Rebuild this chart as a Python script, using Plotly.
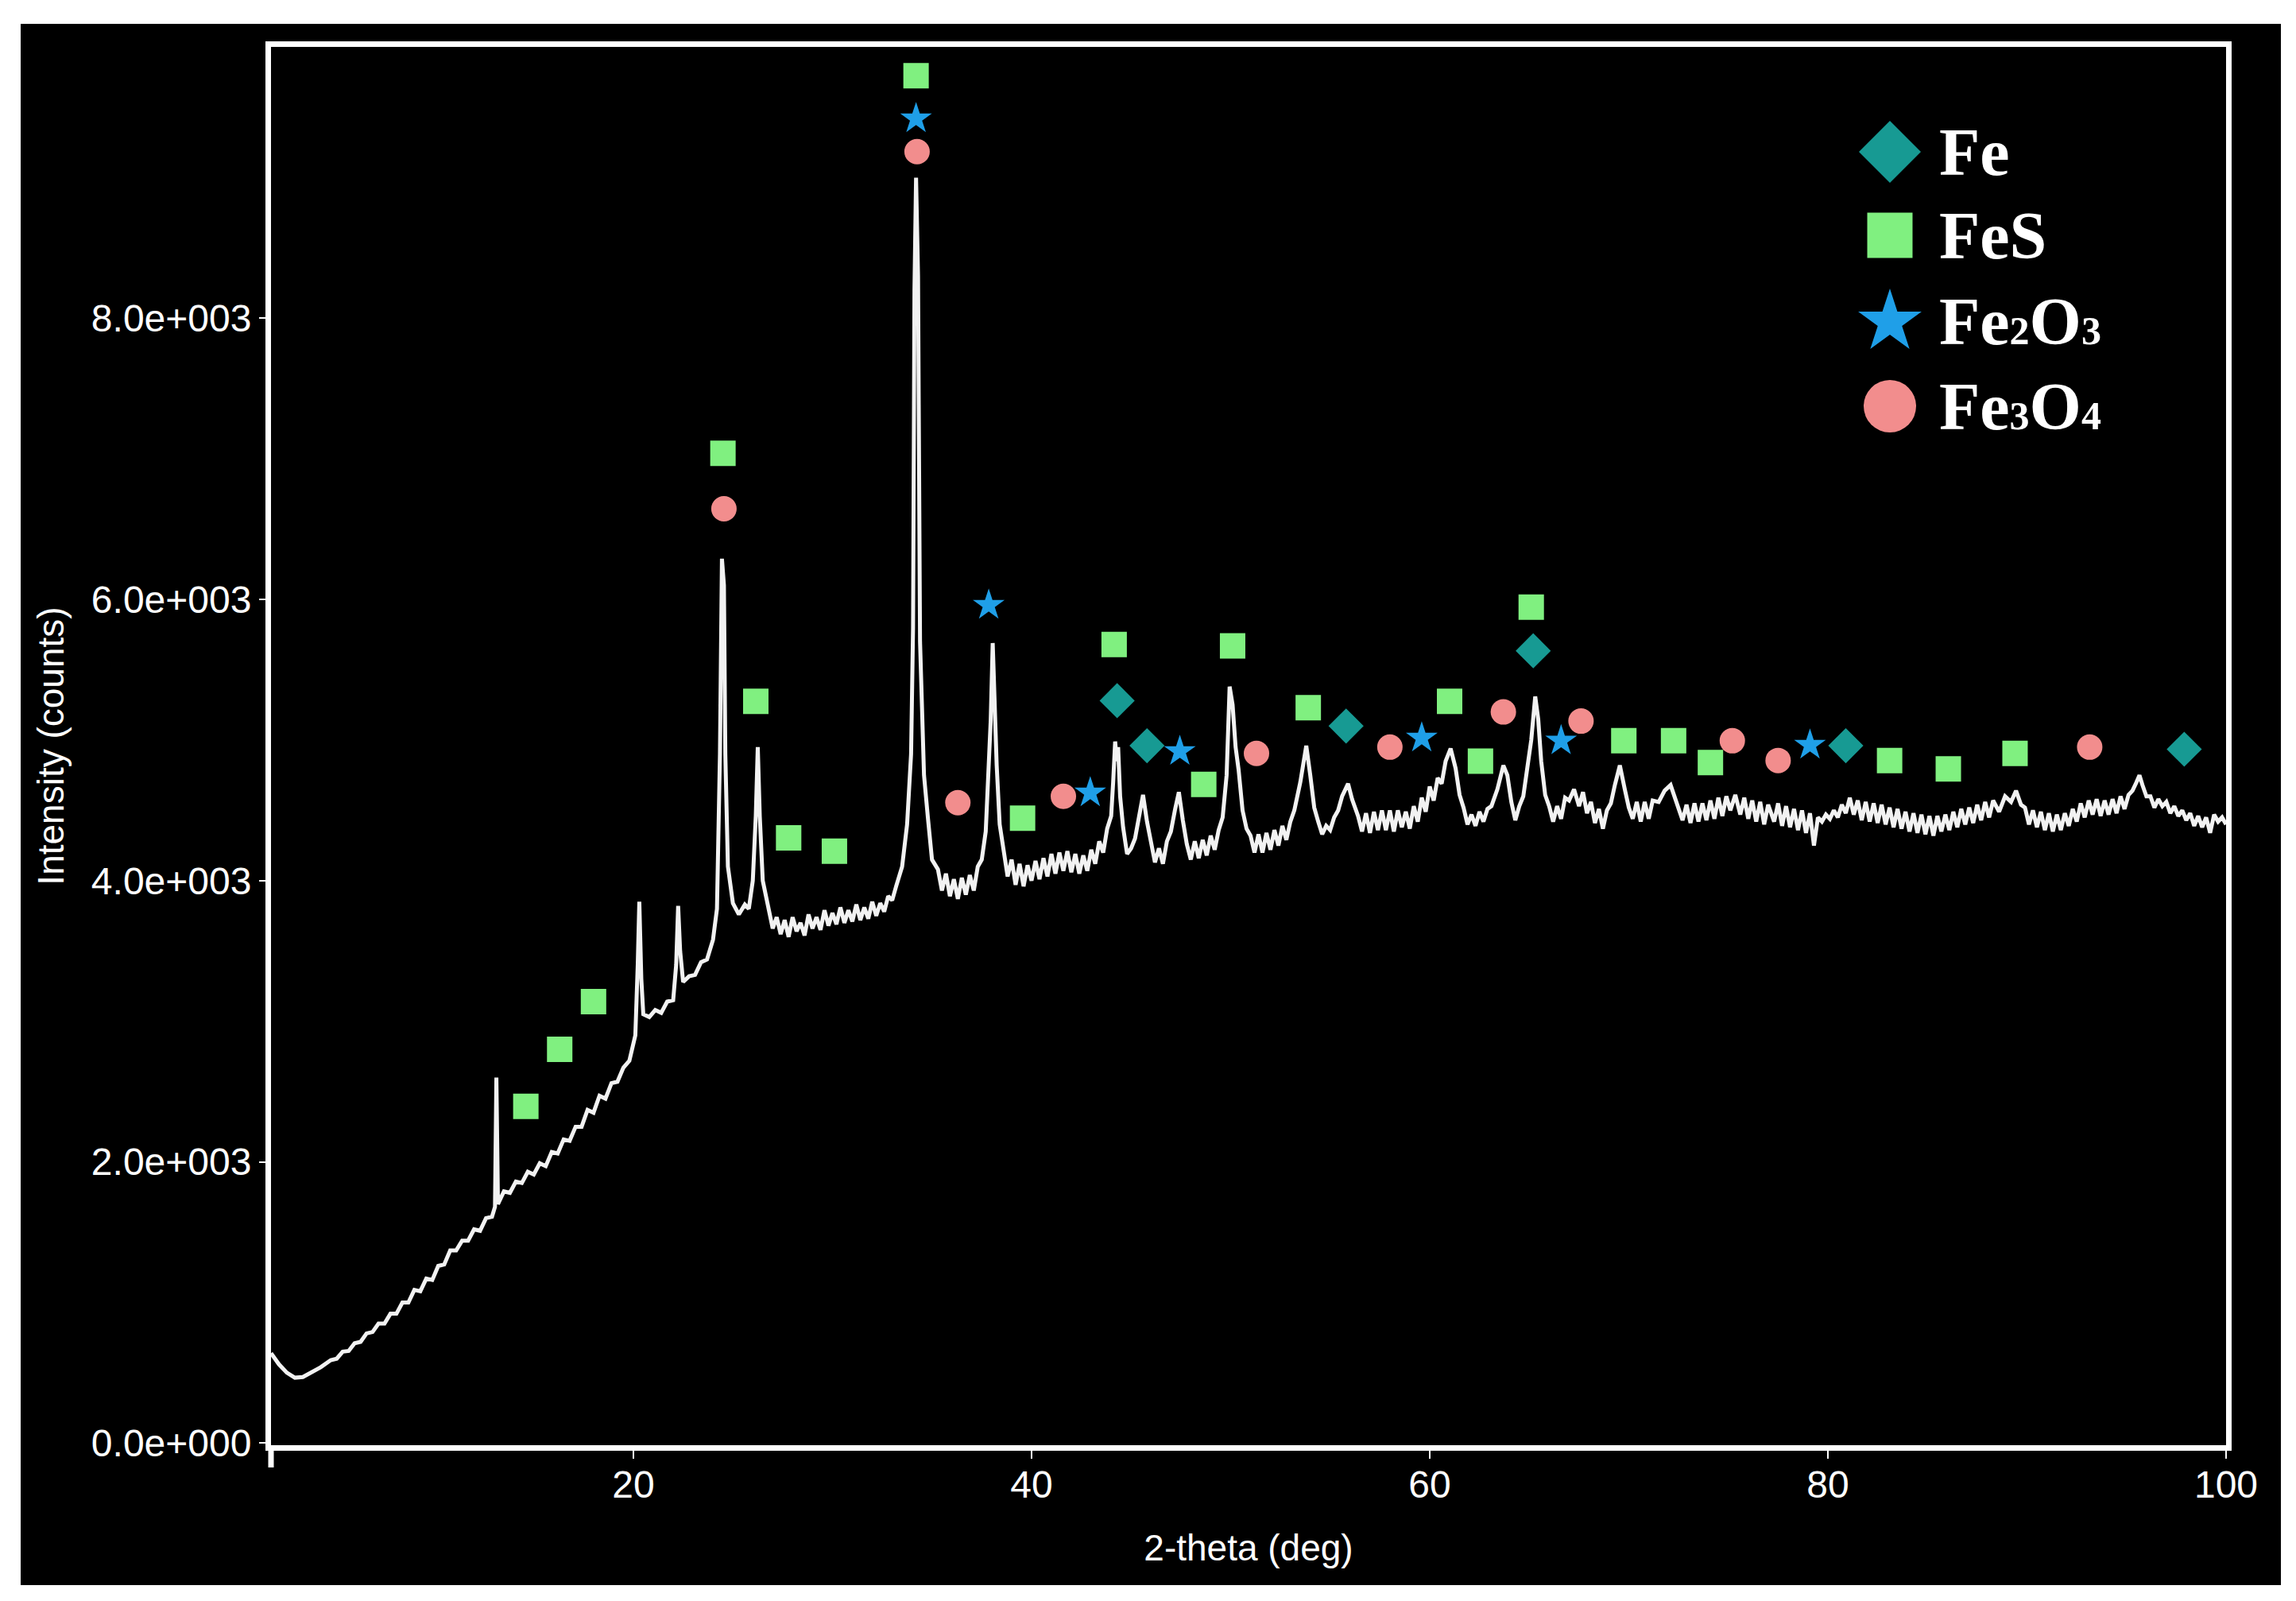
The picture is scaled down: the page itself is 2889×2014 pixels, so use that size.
import plotly.graph_objects as go

# ---------------- data ----------------
# XRD pattern: (2-theta in deg, intensity in counts)
xrd_pattern = [
    (1.8, 640), (2.2, 560), (2.6, 500), (3.0, 465), (3.4, 470), (3.8, 500), (4.3, 540),
    (4.8, 590), (5.1, 600), (5.4, 650), (5.7, 655), (6.0, 710), (6.3, 720), (6.6, 780),
    (6.9, 790), (7.2, 850), (7.5, 850), (7.8, 920), (8.1, 920), (8.4, 1000), (8.7, 1000),
    (9.0, 1090), (9.3, 1080), (9.6, 1170), (9.9, 1160), (10.2, 1260), (10.5, 1270),
    (10.8, 1370), (11.1, 1370), (11.4, 1440), (11.7, 1440), (12.0, 1520), (12.3, 1510),
    (12.6, 1600), (12.9, 1610), (13.05, 1680), (13.12, 2600),
    (13.2, 1700), (13.5, 1790), (13.8, 1780), (14.1, 1860), (14.4, 1850), (14.7, 1930),
    (15.0, 1910), (15.3, 1990), (15.6, 1970), (15.9, 2070), (16.2, 2060), (16.5, 2160),
    (16.8, 2150), (17.1, 2250), (17.4, 2250), (17.7, 2370), (18.0, 2350), (18.3, 2470),
    (18.6, 2450), (18.9, 2560), (19.2, 2570), (19.5, 2670), (19.8, 2720), (20.1, 2900),
    (20.22, 3400), (20.3, 3850), (20.4, 3300), (20.5, 3050), (20.8, 3030), (21.1, 3080),
    (21.4, 3060), (21.7, 3140), (22.0, 3150), (22.15, 3400), (22.25, 3820), (22.35, 3500),
    (22.5, 3280), (22.8, 3320), (23.1, 3330), (23.4, 3420), (23.7, 3440), (24.0, 3580),
    (24.2, 3800), (24.35, 4900), (24.45, 6290), (24.55, 6100),
    (24.62, 4900), (24.75, 4100), (25.0, 3840), (25.3, 3760), (25.6, 3830), (25.8, 3800),
    (26.0, 4000), (26.15, 4460), (26.25, 4950), (26.35, 4460), (26.5, 4000), (26.8, 3800),
    (27.0, 3660), (27.2, 3740), (27.4, 3620), (27.6, 3720), (27.8, 3600), (28.0, 3740),
    (28.2, 3640), (28.4, 3700), (28.6, 3610), (28.8, 3760), (29.0, 3660), (29.2, 3740),
    (29.4, 3650), (29.6, 3790), (29.8, 3680), (30.0, 3770), (30.2, 3690), (30.4, 3810),
    (30.6, 3700), (30.8, 3790), (31.0, 3710), (31.2, 3830), (31.4, 3720), (31.6, 3810),
    (31.8, 3730), (32.0, 3850), (32.2, 3750), (32.4, 3840), (32.6, 3780), (32.8, 3890),
    (33.0, 3860), (33.2, 3960), (33.5, 4100), (33.75, 4400), (33.95, 4900),
    (34.05, 5800), (34.12, 8200), (34.2, 9000), (34.3, 8300), (34.4, 5700), (34.5, 5300),
    (34.6, 4750), (34.8, 4440), (35.0, 4150), (35.3, 4080), (35.5, 3930), (35.7, 4050),
    (35.9, 3890), (36.1, 4010), (36.3, 3870), (36.5, 4020), (36.7, 3900), (36.9, 4040),
    (37.1, 3930), (37.3, 4100), (37.5, 4150), (37.7, 4350), (37.85, 4820), (37.95, 5140),
    (38.05, 5690), (38.15, 5140), (38.25, 4820), (38.4, 4400), (38.6, 4200), (38.8, 4030),
    (39.0, 4150), (39.2, 3970), (39.4, 4120), (39.6, 3960), (39.8, 4110), (40.0, 4000),
    (40.2, 4140), (40.4, 4010), (40.6, 4160), (40.8, 4030), (41.0, 4190), (41.2, 4050),
    (41.4, 4200), (41.6, 4070), (41.8, 4210), (42.0, 4060), (42.2, 4190), (42.4, 4050),
    (42.6, 4180), (42.8, 4070), (43.0, 4220), (43.2, 4120), (43.4, 4280), (43.6, 4200),
    (43.8, 4370), (44.0, 4460), (44.1, 4700), (44.2, 4990), (44.28, 4850), (44.35, 4950),
    (44.45, 4600), (44.6, 4380), (44.8, 4190), (45.0, 4230), (45.2, 4300), (45.4, 4450),
    (45.6, 4610), (45.8, 4420), (46.0, 4280), (46.2, 4130), (46.4, 4230), (46.6, 4120),
    (46.8, 4280), (47.0, 4350), (47.2, 4500), (47.4, 4630), (47.6, 4430), (47.8, 4260),
    (48.0, 4150), (48.2, 4280), (48.4, 4160), (48.6, 4290), (48.8, 4180), (49.0, 4320),
    (49.2, 4220), (49.4, 4360), (49.6, 4450), (49.8, 4750), (49.95, 5380), (50.1, 5250),
    (50.25, 4950), (50.4, 4790), (50.6, 4500), (50.8, 4370), (51.0, 4320), (51.2, 4200),
    (51.4, 4330), (51.6, 4200), (51.8, 4340), (52.0, 4220), (52.2, 4360), (52.4, 4250),
    (52.6, 4390), (52.8, 4290), (53.0, 4420), (53.2, 4500), (53.5, 4700), (53.8, 4960),
    (54.0, 4750), (54.2, 4520), (54.4, 4420), (54.6, 4330), (54.8, 4390), (55.0, 4360),
    (55.2, 4450), (55.4, 4500), (55.6, 4600), (55.9, 4690), (56.1, 4580), (56.4, 4460),
    (56.6, 4350), (56.8, 4480), (57.0, 4340), (57.2, 4490), (57.4, 4360), (57.6, 4500),
    (57.8, 4360), (58.0, 4500), (58.2, 4350), (58.4, 4500), (58.6, 4380), (58.8, 4490),
    (59.0, 4370), (59.2, 4530), (59.4, 4420), (59.6, 4590), (59.8, 4490), (60.0, 4670),
    (60.2, 4570), (60.4, 4730), (60.6, 4690), (60.8, 4850), (61.05, 4940), (61.3, 4800),
    (61.5, 4610), (61.7, 4520), (61.9, 4400), (62.1, 4470), (62.3, 4390), (62.5, 4490),
    (62.7, 4420), (62.9, 4510), (63.1, 4530), (63.4, 4650), (63.7, 4820), (63.9, 4750),
    (64.1, 4560), (64.3, 4430), (64.5, 4530), (64.7, 4600), (64.9, 4800), (65.1, 5000),
    (65.3, 5310), (65.45, 5150), (65.6, 4850), (65.8, 4610), (66.0, 4530), (66.2, 4420),
    (66.4, 4530), (66.6, 4440), (66.8, 4590), (67.0, 4570), (67.25, 4650), (67.5, 4530),
    (67.7, 4630), (67.9, 4480), (68.1, 4560), (68.3, 4410), (68.5, 4510), (68.7, 4370),
    (68.9, 4500), (69.1, 4550), (69.3, 4680), (69.55, 4820), (69.8, 4650), (70.0, 4520),
    (70.2, 4440), (70.4, 4560), (70.6, 4420), (70.8, 4560), (71.0, 4440), (71.2, 4570),
    (71.5, 4560), (71.8, 4640), (72.1, 4680), (72.4, 4560), (72.7, 4430), (72.9, 4540),
    (73.1, 4410), (73.3, 4550), (73.5, 4420), (73.7, 4550), (73.9, 4430), (74.1, 4570),
    (74.3, 4440), (74.5, 4590), (74.7, 4460), (74.9, 4600), (75.1, 4500), (75.35, 4610),
    (75.6, 4470), (75.8, 4590), (76.0, 4440), (76.2, 4570), (76.4, 4420), (76.6, 4560),
    (76.8, 4400), (77.0, 4540), (77.3, 4420), (77.5, 4550), (77.7, 4390), (77.9, 4530),
    (78.1, 4380), (78.3, 4510), (78.5, 4360), (78.7, 4500), (78.9, 4340), (79.1, 4480),
    (79.3, 4250), (79.5, 4450), (79.7, 4420), (79.9, 4470), (80.1, 4440), (80.3, 4500),
    (80.5, 4450), (80.7, 4540), (80.9, 4480), (81.1, 4590), (81.3, 4470), (81.5, 4570),
    (81.7, 4430), (81.9, 4560), (82.1, 4420), (82.3, 4550), (82.5, 4410), (82.7, 4540),
    (82.9, 4400), (83.1, 4520), (83.3, 4380), (83.5, 4510), (83.7, 4370), (83.9, 4490),
    (84.1, 4350), (84.3, 4480), (84.5, 4340), (84.7, 4470), (84.9, 4330), (85.1, 4460),
    (85.3, 4320), (85.5, 4460), (85.7, 4350), (85.9, 4470), (86.1, 4360), (86.3, 4490),
    (86.5, 4380), (86.7, 4510), (86.9, 4400), (87.1, 4520), (87.3, 4410), (87.5, 4540),
    (87.7, 4430), (87.9, 4560), (88.1, 4450), (88.3, 4570), (88.6, 4490), (88.9, 4600),
    (89.2, 4560), (89.45, 4640), (89.7, 4540), (89.9, 4520), (90.1, 4400), (90.3, 4500),
    (90.5, 4380), (90.7, 4490), (90.9, 4360), (91.1, 4480), (91.3, 4350), (91.5, 4470),
    (91.7, 4360), (91.9, 4480), (92.1, 4390), (92.3, 4510), (92.5, 4420), (92.7, 4550),
    (92.9, 4450), (93.1, 4570), (93.3, 4470), (93.5, 4580), (93.7, 4460), (93.9, 4570),
    (94.1, 4470), (94.3, 4580), (94.5, 4480), (94.7, 4600), (94.9, 4510), (95.1, 4610),
    (95.3, 4640), (95.5, 4700), (95.65, 4750), (95.8, 4680), (96.0, 4600), (96.2, 4600),
    (96.4, 4520), (96.6, 4580), (96.8, 4530), (97.0, 4560), (97.2, 4480), (97.4, 4530),
    (97.6, 4460), (97.8, 4500), (98.0, 4430), (98.2, 4480), (98.4, 4390), (98.6, 4460),
    (98.8, 4380), (99.0, 4450), (99.2, 4340), (99.4, 4470), (99.6, 4420), (99.8, 4450),
    (100.0, 4400),
]
two_theta = [p[0] for p in xrd_pattern]
counts = [p[1] for p in xrd_pattern]

# phase markers (2-theta, intensity)
fe_2theta = [44.3, 45.8, 55.8, 65.2, 80.9, 97.9]
fe_counts = [5280, 4960, 5100, 5635, 4960, 4935]

fes_2theta = [14.6, 16.3, 18.0, 24.5, 26.15, 27.8, 30.1, 34.2, 39.55, 44.15, 48.65, 50.1,
              53.9, 61.0, 62.55, 65.1, 69.75, 72.25, 74.1, 83.1, 86.05, 89.4]
fes_counts = [2395, 2800, 3140, 7040, 5275, 4305, 4210, 9725, 4445, 5680, 4685, 5670,
              5230, 5275, 4850, 5945, 4995, 4995, 4840, 4855, 4795, 4905]

fe2o3_2theta = [34.2, 37.85, 42.95, 47.45, 59.6, 66.6, 79.1]
fe2o3_counts = [9420, 5960, 4625, 4920, 5015, 4995, 4965]

fe3o4_2theta = [34.25, 24.55, 36.3, 41.6, 51.3, 58.0, 63.7, 67.6, 75.2, 77.5, 93.15]
fe3o4_counts = [9185, 6645, 4555, 4600, 4905, 4950, 5200, 5135, 4995, 4855, 4950]

SUB = "<span style='font-size:50px'>%s</span>"
phase_names = ["Fe", "FeS", "Fe" + SUB % "2" + "O" + SUB % "3", "Fe" + SUB % "3" + "O" + SUB % "4"]
phase_symbols = ["diamond", "square", "star", "circle"]
phase_colors = ["#179a93", "#80f080", "#1f9fe8", "#f28d8d"]

y_tickvals = [0, 2000, 4000, 6000, 8000]
y_ticktext = ["0.0e+000", "2.0e+003", "4.0e+003", "6.0e+003", "8.0e+003"]
x_tickvals = [20, 40, 60, 80, 100]
x_ticktext = ["20", "40", "60", "80", "100"]

# ---------------- figure ----------------
W, H = 2889, 2014
L, R, T, B = 333, 2793, 51, 1810           # plot area in pixels
pw, ph = R - L, B - T

def px(xp):
    return (xp - L) / pw

def py(yp):
    return (B - yp) / ph

fig = go.Figure()

fig.add_trace(go.Scatter(
    x=two_theta, y=counts, mode="lines",
    line=dict(color="#f2f2f2", width=5), showlegend=False, hoverinfo="skip"))

marker_sizes = [34, 32, 30, 32]
series = [(fe_2theta, fe_counts), (fes_2theta, fes_counts),
          (fe2o3_2theta, fe2o3_counts), (fe3o4_2theta, fe3o4_counts)]
for (xs, ys), sym, col, ms in zip(series, phase_symbols, phase_colors, marker_sizes):
    fig.add_trace(go.Scatter(
        x=xs, y=ys, mode="markers", showlegend=False, hoverinfo="skip",
        marker=dict(symbol=sym, color=col, size=ms, opacity=1, line=dict(width=0))))

# hand-made legend (large symbols) on an overlay axis spanning the plot area
leg_x_marker = px(2370)
leg_x_text = px(2430)
leg_rows = [py(183), py(288), py(397), py(503)]
legend_sizes = [60, 57, 60, 66]
fig.add_trace(go.Scatter(
    x=[leg_x_marker] * 4, y=leg_rows, xaxis="x2", yaxis="y2", mode="markers",
    marker=dict(symbol=phase_symbols, color=phase_colors, size=legend_sizes,
                opacity=1, line=dict(width=0)),
    showlegend=False, hoverinfo="skip"))

annotations = []
for name, yr in zip(phase_names, leg_rows):
    annotations.append(dict(
        x=leg_x_text, y=yr, xref="paper", yref="paper", text="<b>%s</b>" % name,
        showarrow=False, xanchor="left", yanchor="middle",
        font=dict(family="Liberation Serif", size=84, color="white")))

axis_font = dict(family="Liberation Sans", size=48, color="white")
title_font = dict(family="Liberation Sans", size=46, color="white")

fig.update_layout(
    width=W, height=H,
    margin=dict(l=L, r=W - R, t=T, b=H - B, pad=0),
    paper_bgcolor="white", plot_bgcolor="black",
    showlegend=False,
    annotations=annotations,
    xaxis=dict(
        range=[1.8, 100], tickvals=x_tickvals, ticktext=x_ticktext,
        showgrid=False, zeroline=False, showline=True, linecolor="white",
        linewidth=7, mirror=True, ticks="outside", ticklen=10, tickwidth=2,
        tickcolor="white", tickfont=axis_font, ticklabelstandoff=-9,
        title=dict(text="2-theta (deg)", font=title_font, standoff=41)),
    yaxis=dict(
        range=[-15, 9930], tickvals=y_tickvals, ticktext=y_ticktext,
        showgrid=False, zeroline=False, showline=True, linecolor="white",
        linewidth=7, mirror=True, ticks="outside", ticklen=8, tickwidth=2,
        tickcolor="white", tickfont=axis_font,
        title=dict(text="Intensity (counts)", font=title_font, standoff=22)),
    xaxis2=dict(overlaying="x", range=[0, 1], visible=False),
    yaxis2=dict(overlaying="y", range=[0, 1], visible=False),
    shapes=[
        dict(type="rect", xref="paper", yref="paper",
             x0=px(18), x1=px(2862), y0=py(1986), y1=py(22),
             fillcolor="black", line=dict(width=0), layer="below"),
        dict(type="line", xref="paper", yref="paper",
             x0=0, x1=0, y0=0, y1=py(1838),
             line=dict(color="white", width=7)),
    ],
)

fig.write_html("out.html")
